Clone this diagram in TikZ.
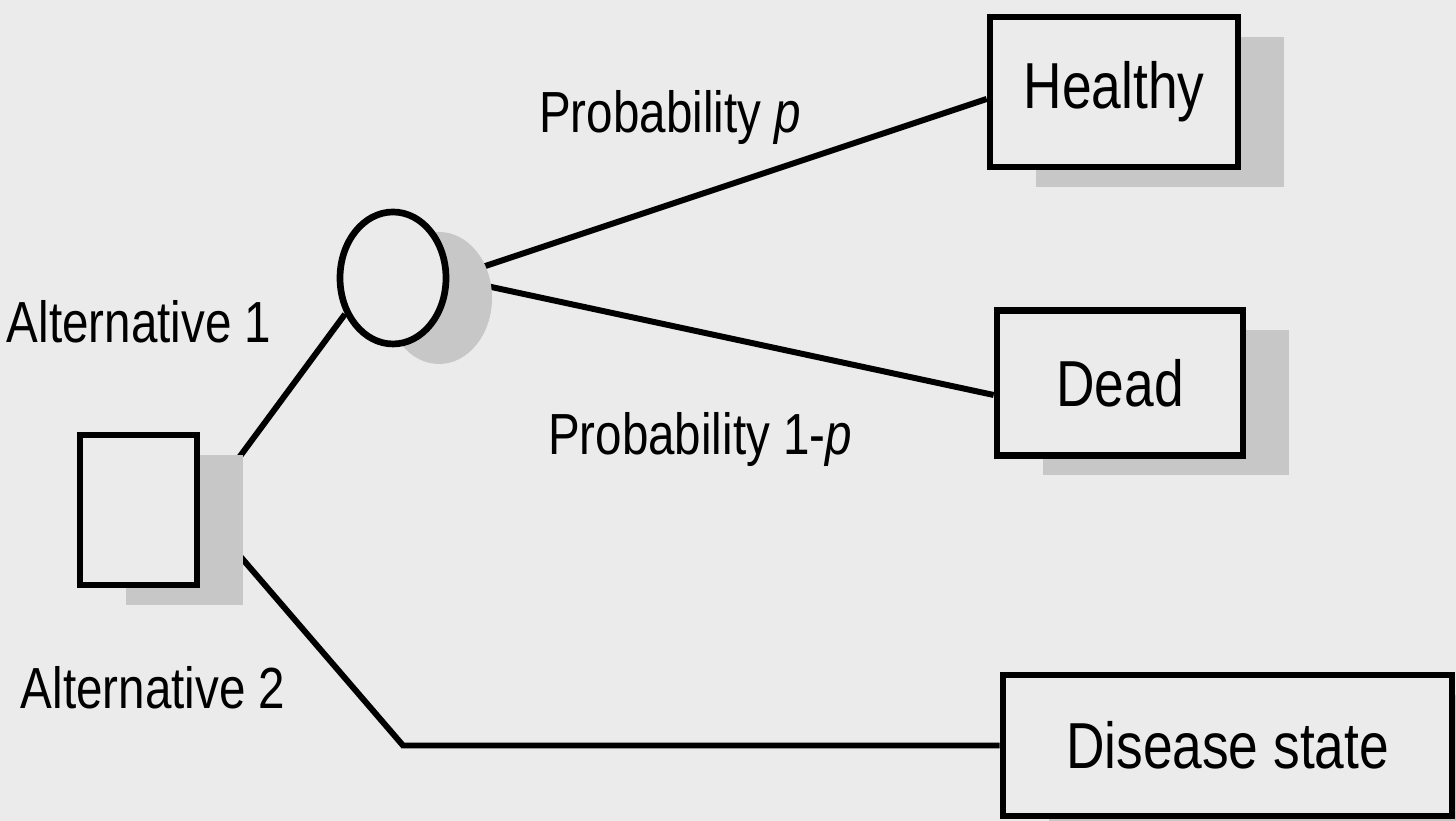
\documentclass[tikz,border=0pt]{standalone}
\usepackage{fontspec}
\setmainfont{Liberation Sans}[FakeStretch=0.82]
\usetikzlibrary{shapes.geometric,shadows}
\pgfdeclarelayer{bg}
\pgfsetlayers{bg,main}
\definecolor{paper}{gray}{0.92}
\definecolor{shade}{gray}{0.78}
\begin{document}
\begin{tikzpicture}[
    shaded/.style={draw,line width=1.9pt,fill=paper,inner sep=0pt,
        drop shadow={shadow xshift=0.46cm,shadow yshift=-0.2cm,fill=shade,opacity=1}},
    outcome/.style={shaded,rectangle,font=\fontsize{18.5}{22}\selectfont},
    branch/.style={line width=1.7pt},
    lbl/.style={font=\fontsize{16.5}{20}\selectfont}
]
            \useasboundingbox (0,0) rectangle (14.56,8.21);
            \node[shaded,rectangle,minimum width=1.17cm,minimum height=1.5cm] (dec) at (1.385,3.11) {};
            \node[shaded,ellipse,minimum width=1.06cm,minimum height=1.32cm] (chance) at (3.93,5.43) {};
            \node[outcome,minimum width=2.48cm,minimum height=1.5cm] (healthy) at (11.14,7.29) {Healthy};
            \node[outcome,minimum width=2.46cm,minimum height=1.45cm] (dead) at (11.2,4.38) {Dead};
            \node[outcome,minimum width=4.49cm,minimum height=1.41cm] (disease) at (12.275,0.755) {Disease state};
            \coordinate (bend) at (4.03,0);
            \begin{pgfonlayer}{bg}
            \fill[paper] (0,0) rectangle (14.56,8.21);
            \draw[branch] (dec.east)--(chance.217);
            \draw[branch] (dec.east)--(bend |- disease.west)--(disease.west);
            \draw[branch] (chance.east)--([yshift=-0.07cm]healthy.west);
            \draw[branch] (chance.east)--([yshift=-0.12cm]dead.west);
            \end{pgfonlayer}
            \node[lbl] (pyes) at (6.7,7.03) {Probability \textit{p}};
            \node[lbl] (pno) at (7.0,3.81) {Probability 1-\textit{p}};
            \node[lbl] (alt1) at (1.39,4.99) {Alternative 1};
            \node[lbl] (alt2) at (1.53,1.33) {Alternative 2};
        \end{tikzpicture}
\end{document}
